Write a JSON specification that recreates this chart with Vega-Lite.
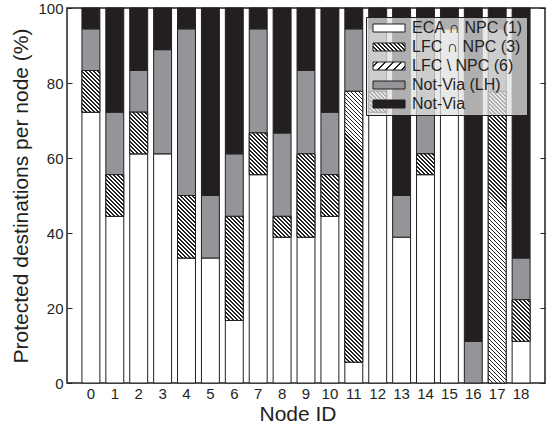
{
  "$schema": "https://vega.github.io/schema/vega-lite/v6.json",
  "width": 478,
  "height": 375,
  "autosize": "none",
  "padding": {"left": 67, "top": 8, "right": 3, "bottom": 44},
  "params": [
    {"name": "hatch", "value": [
{"offset":0,"color":"#222"},{"offset":0.005,"color":"#222"},{"offset":0.005,"color":"#fff"},{"offset":0.0125,"color":"#fff"},
{"offset":0.0125,"color":"#222"},{"offset":0.0175,"color":"#222"},{"offset":0.0175,"color":"#fff"},{"offset":0.025,"color":"#fff"},
{"offset":0.025,"color":"#222"},{"offset":0.03,"color":"#222"},{"offset":0.03,"color":"#fff"},{"offset":0.0375,"color":"#fff"},
{"offset":0.0375,"color":"#222"},{"offset":0.0425,"color":"#222"},{"offset":0.0425,"color":"#fff"},{"offset":0.05,"color":"#fff"},
{"offset":0.05,"color":"#222"},{"offset":0.055,"color":"#222"},{"offset":0.055,"color":"#fff"},{"offset":0.0625,"color":"#fff"},
{"offset":0.0625,"color":"#222"},{"offset":0.0675,"color":"#222"},{"offset":0.0675,"color":"#fff"},{"offset":0.075,"color":"#fff"},
{"offset":0.075,"color":"#222"},{"offset":0.08,"color":"#222"},{"offset":0.08,"color":"#fff"},{"offset":0.0875,"color":"#fff"},
{"offset":0.0875,"color":"#222"},{"offset":0.0925,"color":"#222"},{"offset":0.0925,"color":"#fff"},{"offset":0.1,"color":"#fff"},
{"offset":0.1,"color":"#222"},{"offset":0.105,"color":"#222"},{"offset":0.105,"color":"#fff"},{"offset":0.1125,"color":"#fff"},
{"offset":0.1125,"color":"#222"},{"offset":0.1175,"color":"#222"},{"offset":0.1175,"color":"#fff"},{"offset":0.125,"color":"#fff"},
{"offset":0.125,"color":"#222"},{"offset":0.13,"color":"#222"},{"offset":0.13,"color":"#fff"},{"offset":0.1375,"color":"#fff"},
{"offset":0.1375,"color":"#222"},{"offset":0.1425,"color":"#222"},{"offset":0.1425,"color":"#fff"},{"offset":0.15,"color":"#fff"},
{"offset":0.15,"color":"#222"},{"offset":0.155,"color":"#222"},{"offset":0.155,"color":"#fff"},{"offset":0.1625,"color":"#fff"},
{"offset":0.1625,"color":"#222"},{"offset":0.1675,"color":"#222"},{"offset":0.1675,"color":"#fff"},{"offset":0.175,"color":"#fff"},
{"offset":0.175,"color":"#222"},{"offset":0.18,"color":"#222"},{"offset":0.18,"color":"#fff"},{"offset":0.1875,"color":"#fff"},
{"offset":0.1875,"color":"#222"},{"offset":0.1925,"color":"#222"},{"offset":0.1925,"color":"#fff"},{"offset":0.2,"color":"#fff"},
{"offset":0.2,"color":"#222"},{"offset":0.205,"color":"#222"},{"offset":0.205,"color":"#fff"},{"offset":0.2125,"color":"#fff"},
{"offset":0.2125,"color":"#222"},{"offset":0.2175,"color":"#222"},{"offset":0.2175,"color":"#fff"},{"offset":0.225,"color":"#fff"},
{"offset":0.225,"color":"#222"},{"offset":0.23,"color":"#222"},{"offset":0.23,"color":"#fff"},{"offset":0.2375,"color":"#fff"},
{"offset":0.2375,"color":"#222"},{"offset":0.2425,"color":"#222"},{"offset":0.2425,"color":"#fff"},{"offset":0.25,"color":"#fff"},
{"offset":0.25,"color":"#222"},{"offset":0.255,"color":"#222"},{"offset":0.255,"color":"#fff"},{"offset":0.2625,"color":"#fff"},
{"offset":0.2625,"color":"#222"},{"offset":0.2675,"color":"#222"},{"offset":0.2675,"color":"#fff"},{"offset":0.275,"color":"#fff"},
{"offset":0.275,"color":"#222"},{"offset":0.28,"color":"#222"},{"offset":0.28,"color":"#fff"},{"offset":0.2875,"color":"#fff"},
{"offset":0.2875,"color":"#222"},{"offset":0.2925,"color":"#222"},{"offset":0.2925,"color":"#fff"},{"offset":0.3,"color":"#fff"},
{"offset":0.3,"color":"#222"},{"offset":0.305,"color":"#222"},{"offset":0.305,"color":"#fff"},{"offset":0.3125,"color":"#fff"},
{"offset":0.3125,"color":"#222"},{"offset":0.3175,"color":"#222"},{"offset":0.3175,"color":"#fff"},{"offset":0.325,"color":"#fff"},
{"offset":0.325,"color":"#222"},{"offset":0.33,"color":"#222"},{"offset":0.33,"color":"#fff"},{"offset":0.3375,"color":"#fff"},
{"offset":0.3375,"color":"#222"},{"offset":0.3425,"color":"#222"},{"offset":0.3425,"color":"#fff"},{"offset":0.35,"color":"#fff"},
{"offset":0.35,"color":"#222"},{"offset":0.355,"color":"#222"},{"offset":0.355,"color":"#fff"},{"offset":0.3625,"color":"#fff"},
{"offset":0.3625,"color":"#222"},{"offset":0.3675,"color":"#222"},{"offset":0.3675,"color":"#fff"},{"offset":0.375,"color":"#fff"},
{"offset":0.375,"color":"#222"},{"offset":0.38,"color":"#222"},{"offset":0.38,"color":"#fff"},{"offset":0.3875,"color":"#fff"},
{"offset":0.3875,"color":"#222"},{"offset":0.3925,"color":"#222"},{"offset":0.3925,"color":"#fff"},{"offset":0.4,"color":"#fff"},
{"offset":0.4,"color":"#222"},{"offset":0.405,"color":"#222"},{"offset":0.405,"color":"#fff"},{"offset":0.4125,"color":"#fff"},
{"offset":0.4125,"color":"#222"},{"offset":0.4175,"color":"#222"},{"offset":0.4175,"color":"#fff"},{"offset":0.425,"color":"#fff"},
{"offset":0.425,"color":"#222"},{"offset":0.43,"color":"#222"},{"offset":0.43,"color":"#fff"},{"offset":0.4375,"color":"#fff"},
{"offset":0.4375,"color":"#222"},{"offset":0.4425,"color":"#222"},{"offset":0.4425,"color":"#fff"},{"offset":0.45,"color":"#fff"},
{"offset":0.45,"color":"#222"},{"offset":0.455,"color":"#222"},{"offset":0.455,"color":"#fff"},{"offset":0.4625,"color":"#fff"},
{"offset":0.4625,"color":"#222"},{"offset":0.4675,"color":"#222"},{"offset":0.4675,"color":"#fff"},{"offset":0.475,"color":"#fff"},
{"offset":0.475,"color":"#222"},{"offset":0.48,"color":"#222"},{"offset":0.48,"color":"#fff"},{"offset":0.4875,"color":"#fff"},
{"offset":0.4875,"color":"#222"},{"offset":0.4925,"color":"#222"},{"offset":0.4925,"color":"#fff"},{"offset":0.5,"color":"#fff"},
{"offset":0.5,"color":"#222"},{"offset":0.505,"color":"#222"},{"offset":0.505,"color":"#fff"},{"offset":0.5125,"color":"#fff"},
{"offset":0.5125,"color":"#222"},{"offset":0.5175,"color":"#222"},{"offset":0.5175,"color":"#fff"},{"offset":0.525,"color":"#fff"},
{"offset":0.525,"color":"#222"},{"offset":0.53,"color":"#222"},{"offset":0.53,"color":"#fff"},{"offset":0.5375,"color":"#fff"},
{"offset":0.5375,"color":"#222"},{"offset":0.5425,"color":"#222"},{"offset":0.5425,"color":"#fff"},{"offset":0.55,"color":"#fff"},
{"offset":0.55,"color":"#222"},{"offset":0.555,"color":"#222"},{"offset":0.555,"color":"#fff"},{"offset":0.5625,"color":"#fff"},
{"offset":0.5625,"color":"#222"},{"offset":0.5675,"color":"#222"},{"offset":0.5675,"color":"#fff"},{"offset":0.575,"color":"#fff"},
{"offset":0.575,"color":"#222"},{"offset":0.58,"color":"#222"},{"offset":0.58,"color":"#fff"},{"offset":0.5875,"color":"#fff"},
{"offset":0.5875,"color":"#222"},{"offset":0.5925,"color":"#222"},{"offset":0.5925,"color":"#fff"},{"offset":0.6,"color":"#fff"},
{"offset":0.6,"color":"#222"},{"offset":0.605,"color":"#222"},{"offset":0.605,"color":"#fff"},{"offset":0.6125,"color":"#fff"},
{"offset":0.6125,"color":"#222"},{"offset":0.6175,"color":"#222"},{"offset":0.6175,"color":"#fff"},{"offset":0.625,"color":"#fff"},
{"offset":0.625,"color":"#222"},{"offset":0.63,"color":"#222"},{"offset":0.63,"color":"#fff"},{"offset":0.6375,"color":"#fff"},
{"offset":0.6375,"color":"#222"},{"offset":0.6425,"color":"#222"},{"offset":0.6425,"color":"#fff"},{"offset":0.65,"color":"#fff"},
{"offset":0.65,"color":"#222"},{"offset":0.655,"color":"#222"},{"offset":0.655,"color":"#fff"},{"offset":0.6625,"color":"#fff"},
{"offset":0.6625,"color":"#222"},{"offset":0.6675,"color":"#222"},{"offset":0.6675,"color":"#fff"},{"offset":0.675,"color":"#fff"},
{"offset":0.675,"color":"#222"},{"offset":0.68,"color":"#222"},{"offset":0.68,"color":"#fff"},{"offset":0.6875,"color":"#fff"},
{"offset":0.6875,"color":"#222"},{"offset":0.6925,"color":"#222"},{"offset":0.6925,"color":"#fff"},{"offset":0.7,"color":"#fff"},
{"offset":0.7,"color":"#222"},{"offset":0.705,"color":"#222"},{"offset":0.705,"color":"#fff"},{"offset":0.7125,"color":"#fff"},
{"offset":0.7125,"color":"#222"},{"offset":0.7175,"color":"#222"},{"offset":0.7175,"color":"#fff"},{"offset":0.725,"color":"#fff"},
{"offset":0.725,"color":"#222"},{"offset":0.73,"color":"#222"},{"offset":0.73,"color":"#fff"},{"offset":0.7375,"color":"#fff"},
{"offset":0.7375,"color":"#222"},{"offset":0.7425,"color":"#222"},{"offset":0.7425,"color":"#fff"},{"offset":0.75,"color":"#fff"},
{"offset":0.75,"color":"#222"},{"offset":0.755,"color":"#222"},{"offset":0.755,"color":"#fff"},{"offset":0.7625,"color":"#fff"},
{"offset":0.7625,"color":"#222"},{"offset":0.7675,"color":"#222"},{"offset":0.7675,"color":"#fff"},{"offset":0.775,"color":"#fff"},
{"offset":0.775,"color":"#222"},{"offset":0.78,"color":"#222"},{"offset":0.78,"color":"#fff"},{"offset":0.7875,"color":"#fff"},
{"offset":0.7875,"color":"#222"},{"offset":0.7925,"color":"#222"},{"offset":0.7925,"color":"#fff"},{"offset":0.8,"color":"#fff"},
{"offset":0.8,"color":"#222"},{"offset":0.805,"color":"#222"},{"offset":0.805,"color":"#fff"},{"offset":0.8125,"color":"#fff"},
{"offset":0.8125,"color":"#222"},{"offset":0.8175,"color":"#222"},{"offset":0.8175,"color":"#fff"},{"offset":0.825,"color":"#fff"},
{"offset":0.825,"color":"#222"},{"offset":0.83,"color":"#222"},{"offset":0.83,"color":"#fff"},{"offset":0.8375,"color":"#fff"},
{"offset":0.8375,"color":"#222"},{"offset":0.8425,"color":"#222"},{"offset":0.8425,"color":"#fff"},{"offset":0.85,"color":"#fff"},
{"offset":0.85,"color":"#222"},{"offset":0.855,"color":"#222"},{"offset":0.855,"color":"#fff"},{"offset":0.8625,"color":"#fff"},
{"offset":0.8625,"color":"#222"},{"offset":0.8675,"color":"#222"},{"offset":0.8675,"color":"#fff"},{"offset":0.875,"color":"#fff"},
{"offset":0.875,"color":"#222"},{"offset":0.88,"color":"#222"},{"offset":0.88,"color":"#fff"},{"offset":0.8875,"color":"#fff"},
{"offset":0.8875,"color":"#222"},{"offset":0.8925,"color":"#222"},{"offset":0.8925,"color":"#fff"},{"offset":0.9,"color":"#fff"},
{"offset":0.9,"color":"#222"},{"offset":0.905,"color":"#222"},{"offset":0.905,"color":"#fff"},{"offset":0.9125,"color":"#fff"},
{"offset":0.9125,"color":"#222"},{"offset":0.9175,"color":"#222"},{"offset":0.9175,"color":"#fff"},{"offset":0.925,"color":"#fff"},
{"offset":0.925,"color":"#222"},{"offset":0.93,"color":"#222"},{"offset":0.93,"color":"#fff"},{"offset":0.9375,"color":"#fff"},
{"offset":0.9375,"color":"#222"},{"offset":0.9425,"color":"#222"},{"offset":0.9425,"color":"#fff"},{"offset":0.95,"color":"#fff"},
{"offset":0.95,"color":"#222"},{"offset":0.955,"color":"#222"},{"offset":0.955,"color":"#fff"},{"offset":0.9625,"color":"#fff"},
{"offset":0.9625,"color":"#222"},{"offset":0.9675,"color":"#222"},{"offset":0.9675,"color":"#fff"},{"offset":0.975,"color":"#fff"},
{"offset":0.975,"color":"#222"},{"offset":0.98,"color":"#222"},{"offset":0.98,"color":"#fff"},{"offset":0.9875,"color":"#fff"},
{"offset":0.9875,"color":"#222"},{"offset":0.9925,"color":"#222"},{"offset":0.9925,"color":"#fff"},{"offset":1,"color":"#fff"}
    ]},
    {"name": "slash", "value": [
{"offset":0,"color":"#fff"},{"offset":0.08,"color":"#fff"},{"offset":0.08,"color":"#222"},{"offset":0.13,"color":"#222"},{"offset":0.13,"color":"#fff"},
{"offset":0.28,"color":"#fff"},{"offset":0.28,"color":"#222"},{"offset":0.33,"color":"#222"},{"offset":0.33,"color":"#fff"},
{"offset":0.48,"color":"#fff"},{"offset":0.48,"color":"#222"},{"offset":0.53,"color":"#222"},{"offset":0.53,"color":"#fff"},
{"offset":0.68,"color":"#fff"},{"offset":0.68,"color":"#222"},{"offset":0.73,"color":"#222"},{"offset":0.73,"color":"#fff"},
{"offset":0.88,"color":"#fff"},{"offset":0.88,"color":"#222"},{"offset":0.93,"color":"#222"},{"offset":0.93,"color":"#fff"},{"offset":1,"color":"#fff"}
    ]}
  ],
  "data": {"values": [
    {"node": 0, "cat": "ECA ∩ NPC (1)", "lo": 0, "hi": 72.22},
    {"node": 0, "cat": "LFC ∩ NPC (3)", "lo": 72.22, "hi": 83.33},
    {"node": 0, "cat": "Not-Via (LH)", "lo": 83.33, "hi": 94.44},
    {"node": 0, "cat": "Not-Via", "lo": 94.44, "hi": 100},
    {"node": 1, "cat": "ECA ∩ NPC (1)", "lo": 0, "hi": 44.44},
    {"node": 1, "cat": "LFC ∩ NPC (3)", "lo": 44.44, "hi": 55.56},
    {"node": 1, "cat": "Not-Via (LH)", "lo": 55.56, "hi": 72.22},
    {"node": 1, "cat": "Not-Via", "lo": 72.22, "hi": 100},
    {"node": 2, "cat": "ECA ∩ NPC (1)", "lo": 0, "hi": 61.11},
    {"node": 2, "cat": "LFC ∩ NPC (3)", "lo": 61.11, "hi": 72.22},
    {"node": 2, "cat": "Not-Via (LH)", "lo": 72.22, "hi": 83.33},
    {"node": 2, "cat": "Not-Via", "lo": 83.33, "hi": 100},
    {"node": 3, "cat": "ECA ∩ NPC (1)", "lo": 0, "hi": 61.11},
    {"node": 3, "cat": "Not-Via (LH)", "lo": 61.11, "hi": 88.89},
    {"node": 3, "cat": "Not-Via", "lo": 88.89, "hi": 100},
    {"node": 4, "cat": "ECA ∩ NPC (1)", "lo": 0, "hi": 33.33},
    {"node": 4, "cat": "LFC ∩ NPC (3)", "lo": 33.33, "hi": 50},
    {"node": 4, "cat": "Not-Via (LH)", "lo": 50, "hi": 94.44},
    {"node": 4, "cat": "Not-Via", "lo": 94.44, "hi": 100},
    {"node": 5, "cat": "ECA ∩ NPC (1)", "lo": 0, "hi": 33.33},
    {"node": 5, "cat": "Not-Via (LH)", "lo": 33.33, "hi": 50},
    {"node": 5, "cat": "Not-Via", "lo": 50, "hi": 100},
    {"node": 6, "cat": "ECA ∩ NPC (1)", "lo": 0, "hi": 16.67},
    {"node": 6, "cat": "LFC ∩ NPC (3)", "lo": 16.67, "hi": 44.44},
    {"node": 6, "cat": "Not-Via (LH)", "lo": 44.44, "hi": 61.11},
    {"node": 6, "cat": "Not-Via", "lo": 61.11, "hi": 100},
    {"node": 7, "cat": "ECA ∩ NPC (1)", "lo": 0, "hi": 55.56},
    {"node": 7, "cat": "LFC ∩ NPC (3)", "lo": 55.56, "hi": 66.67},
    {"node": 7, "cat": "Not-Via (LH)", "lo": 66.67, "hi": 94.44},
    {"node": 7, "cat": "Not-Via", "lo": 94.44, "hi": 100},
    {"node": 8, "cat": "ECA ∩ NPC (1)", "lo": 0, "hi": 38.89},
    {"node": 8, "cat": "LFC ∩ NPC (3)", "lo": 38.89, "hi": 44.44},
    {"node": 8, "cat": "Not-Via (LH)", "lo": 44.44, "hi": 66.67},
    {"node": 8, "cat": "Not-Via", "lo": 66.67, "hi": 100},
    {"node": 9, "cat": "ECA ∩ NPC (1)", "lo": 0, "hi": 38.89},
    {"node": 9, "cat": "LFC ∩ NPC (3)", "lo": 38.89, "hi": 61.11},
    {"node": 9, "cat": "Not-Via (LH)", "lo": 61.11, "hi": 83.33},
    {"node": 9, "cat": "Not-Via", "lo": 83.33, "hi": 100},
    {"node": 10, "cat": "ECA ∩ NPC (1)", "lo": 0, "hi": 44.44},
    {"node": 10, "cat": "LFC ∩ NPC (3)", "lo": 44.44, "hi": 55.56},
    {"node": 10, "cat": "Not-Via (LH)", "lo": 55.56, "hi": 72.22},
    {"node": 10, "cat": "Not-Via", "lo": 72.22, "hi": 100},
    {"node": 11, "cat": "ECA ∩ NPC (1)", "lo": 0, "hi": 5.56},
    {"node": 11, "cat": "LFC ∩ NPC (3)", "lo": 5.56, "hi": 77.78},
    {"node": 11, "cat": "Not-Via (LH)", "lo": 77.78, "hi": 94.44},
    {"node": 11, "cat": "Not-Via", "lo": 94.44, "hi": 100},
    {"node": 12, "cat": "ECA ∩ NPC (1)", "lo": 0, "hi": 72.22},
    {"node": 12, "cat": "LFC ∩ NPC (3)", "lo": 72.22, "hi": 77.78},
    {"node": 12, "cat": "Not-Via (LH)", "lo": 77.78, "hi": 94.44},
    {"node": 12, "cat": "Not-Via", "lo": 94.44, "hi": 100},
    {"node": 13, "cat": "ECA ∩ NPC (1)", "lo": 0, "hi": 38.89},
    {"node": 13, "cat": "Not-Via (LH)", "lo": 38.89, "hi": 50},
    {"node": 13, "cat": "Not-Via", "lo": 50, "hi": 100},
    {"node": 14, "cat": "ECA ∩ NPC (1)", "lo": 0, "hi": 55.56},
    {"node": 14, "cat": "LFC ∩ NPC (3)", "lo": 55.56, "hi": 61.11},
    {"node": 14, "cat": "Not-Via (LH)", "lo": 61.11, "hi": 94.44},
    {"node": 14, "cat": "Not-Via", "lo": 94.44, "hi": 100},
    {"node": 15, "cat": "ECA ∩ NPC (1)", "lo": 0, "hi": 94.44},
    {"node": 15, "cat": "Not-Via", "lo": 94.44, "hi": 100},
    {"node": 16, "cat": "Not-Via (LH)", "lo": 0, "hi": 11.11},
    {"node": 16, "cat": "Not-Via", "lo": 11.11, "hi": 100},
    {"node": 17, "cat": "LFC ∩ NPC (3)", "lo": 0, "hi": 77.78},
    {"node": 17, "cat": "Not-Via (LH)", "lo": 77.78, "hi": 94.44},
    {"node": 17, "cat": "Not-Via", "lo": 94.44, "hi": 100},
    {"node": 18, "cat": "ECA ∩ NPC (1)", "lo": 0, "hi": 11.11},
    {"node": 18, "cat": "LFC ∩ NPC (3)", "lo": 11.11, "hi": 22.22},
    {"node": 18, "cat": "Not-Via (LH)", "lo": 22.22, "hi": 33.33},
    {"node": 18, "cat": "Not-Via", "lo": 33.33, "hi": 100}
  ]},
  "config": {
    "font": "Liberation Sans",
    "view": {"stroke": "#231f20", "strokeWidth": 1.5},
    "axis": {"labelColor": "#231f20", "titleColor": "#231f20", "titleFontWeight": "normal", "grid": false, "domain": false, "labelFont": "Liberation Sans", "titleFont": "Liberation Sans"}
  },
  "layer": [
    {
      "mark": {"type": "bar", "stroke": "#231f20", "strokeWidth": 1},
      "encoding": {
        "x": {"field": "node", "type": "ordinal",
          "scale": {"paddingInner": 0.25, "paddingOuter": 0.625},
          "axis": {"title": "Node ID", "labelAngle": 0, "labelFontSize": 15, "ticks": false, "labelPadding": 3, "titleFontSize": 21, "titlePadding": 2, "titleX": 230.5}},
        "y": {"field": "lo", "type": "quantitative",
          "scale": {"domain": [0, 100], "nice": false},
          "axis": {"title": "Protected destinations per node (%)", "values": [0, 20, 40, 60, 80, 100], "tickSize": -5, "tickColor": "#231f20", "tickWidth": 1, "labelFontSize": 15, "labelPadding": 9, "titleFontSize": 21, "titlePadding": 6}},
        "y2": {"field": "hi"},
        "color": {"field": "cat", "type": "nominal",
          "scale": {"domain": ["ECA ∩ NPC (1)", "LFC ∩ NPC (3)", "LFC \\ NPC (6)", "Not-Via (LH)", "Not-Via"],
                    "range": ["#ffffff",
                      {"expr": "{gradient:'linear',x1:0,y1:1,x2:9.4,y2:-1.35,stops:hatch}"},
                      {"expr": "{gradient:'linear',x1:0,y1:0,x2:1.177,y2:0.294,stops:slash}"},
                      "#939598", "#231f20"]},
          "legend": {"title": null, "orient": "none", "legendX": 299, "legendY": 9, "padding": 3,
            "fillColor": "rgba(224,224,224,0.75)", "strokeColor": "#231f20",
            "symbolType": "M-1,-1L7,-1L7,1L-1,1Z", "symbolSize": 64,
            "symbolStrokeColor": "#231f20", "symbolStrokeWidth": 1,
            "labelFontSize": 16, "labelColor": "#231f20", "labelFont": "Liberation Sans", "labelOffset": 27, "labelLimit": 0, "rowPadding": 3}
        }
      }
    },
    {
      "transform": [{"filter": {"field": "cat", "equal": "LFC ∩ NPC (3)"}}],
      "mark": {"type": "bar", "stroke": "#231f20", "strokeWidth": 1,
        "fill": {"expr": "{gradient:'linear',x1:0,y1:1,x2:319.6*bandwidth('x')/(bandwidth('x')*bandwidth('x')+pow(scale('y',datum.lo)-scale('y',datum.hi),2)),y2:1-319.6*(scale('y',datum.lo)-scale('y',datum.hi))/(bandwidth('x')*bandwidth('x')+pow(scale('y',datum.lo)-scale('y',datum.hi),2)),stops:hatch}"}},
      "encoding": {
        "x": {"field": "node", "type": "ordinal", "axis": null},
        "y": {"field": "lo", "type": "quantitative",
          "axis": {"orient": "right", "labels": false, "title": null, "values": [0, 20, 40, 60, 80, 100], "tickSize": -5, "tickColor": "#231f20", "tickWidth": 1}},
        "y2": {"field": "hi"}
      }
    }
  ],
  "resolve": {"axis": {"x": "independent", "y": "independent"}}
}
